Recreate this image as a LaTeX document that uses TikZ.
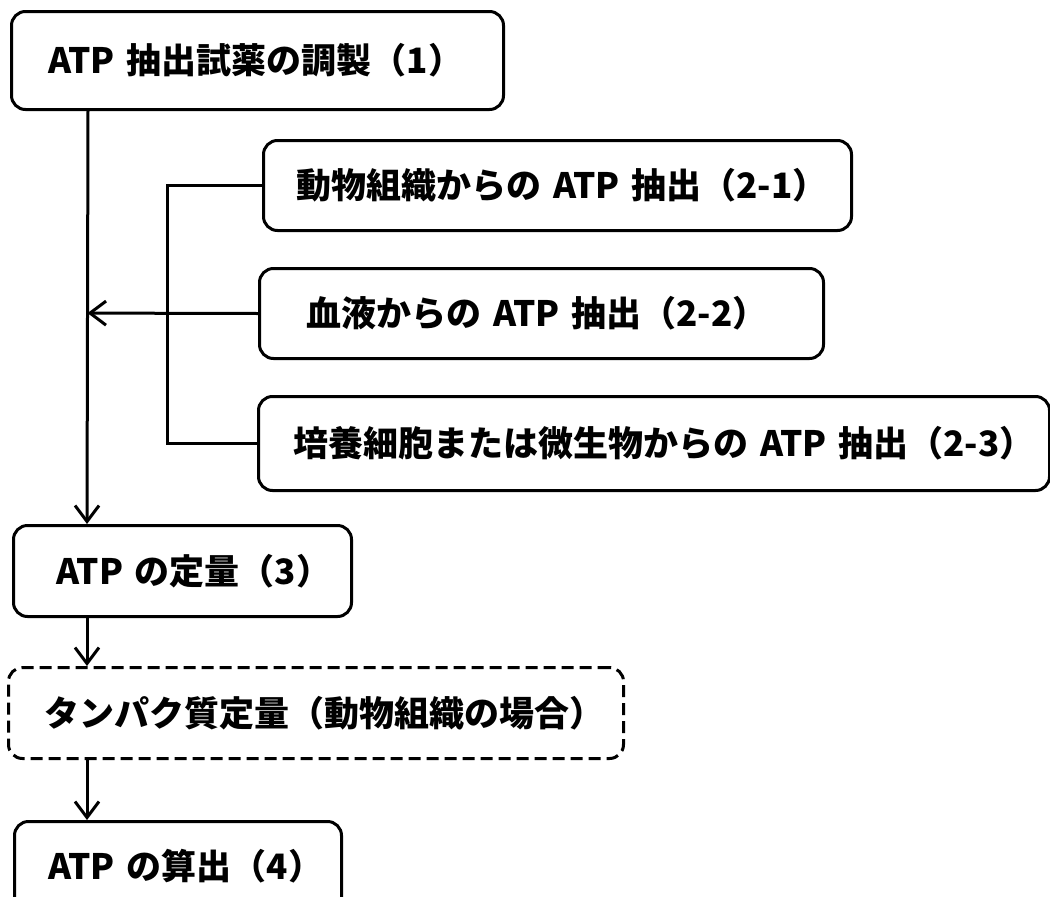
\documentclass[tikz,border=0pt]{standalone}
\usepackage{fontspec}
\setmainfont{Noto Sans CJK JP}
\usetikzlibrary{arrows.meta,calc}
\tikzset{
  box/.style={draw=black, line width=3pt, rounded corners=14pt, anchor=north west,
    inner xsep=0pt, inner ysep=0pt, align=left,
    font=\fontsize{35}{40}\selectfont\bfseries},
  dbox/.style={box, dash pattern=on 12pt off 6pt},
  conn/.style={line width=3pt, draw=black},
  arr/.style={conn, -{Straight Barb[length=16pt,width=24pt,line width=3pt]}}
}
\begin{document}
\begin{tikzpicture}[x=1pt,y=-1pt]
\useasboundingbox (0,0) rectangle (1050,897);
\node[box, minimum height=98pt, text width=492pt] (b1) at (10,10)
  {\hspace*{37pt}\mbox{ATP 抽出試薬の調製（1）}};
\node[box, minimum height=90pt, text width=588pt] (b21) at (262,139)
  {\hspace*{33pt}\mbox{動物組織からの ATP 抽出（2-1）}};
\node[box, minimum height=90pt, text width=564pt] (b22) at (258,267)
  {\hspace*{47pt}\mbox{血液からの ATP 抽出（2-2）}};
\node[box, minimum height=94pt, text width=791pt] (b23) at (257,395)
  {\hspace*{35pt}\mbox{培養細胞または微生物からの ATP 抽出（2-3）}};
\node[box, minimum height=91pt, text width=338pt] (b3) at (12,524)
  {\hspace*{43pt}\mbox{ATP の定量（3）}};
\node[dbox, minimum height=91pt, text width=615pt] (b5) at (7,666)
  {\hspace*{36pt}\raisebox{-5pt}{\mbox{タンパク質定量（動物組織の場合）}}};
\node[box, minimum height=90pt, text width=327pt] (b4) at (13,820)
  {\hspace*{34pt}\mbox{ATP の算出（4）}};
\coordinate (m1) at ($(b1.south west)+(78,0)$);
\coordinate (m2) at ($(b3.north west)+(75,0)$);
\draw[arr] (m1) -- (m2);
\draw[conn] (b21.west) -- ++(-95,0) |- (b23.west);
\draw[arr] (b22.west) -- ($(m1)!(b22.west)!(m2)$);
\draw[arr] (b3.south west) ++(75,0) coordinate (c3) (c3) -- (c3 |- b5.north);
\draw[arr] (b5.south west) ++(80,0) coordinate (c5) (c5) -- (c5 |- b4.north);
\end{tikzpicture}
\end{document}
